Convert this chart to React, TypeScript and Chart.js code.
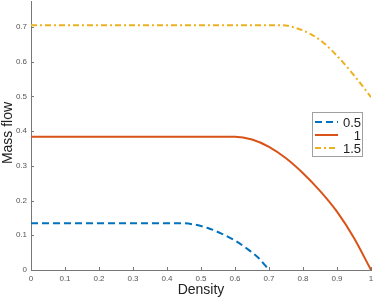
import React, { useEffect, useRef } from "react";
import { Chart, registerables } from "chart.js";

Chart.register(...registerables);

const seriesLabels = ["0.5", "1", "1.5"];

const densityA = [0, 0.44, 0.48, 0.52, 0.56, 0.6, 0.64, 0.67, 0.7];
const flowA = [0.135, 0.135, 0.131, 0.121, 0.105, 0.085, 0.058, 0.034, 0.0];

const densityB = [0, 0.6, 0.65, 0.7, 0.75, 0.8, 0.85, 0.9, 0.95, 1];
const flowB = [0.384, 0.384, 0.376, 0.355, 0.322, 0.279, 0.228, 0.168, 0.092, 0.0];

const densityC = [0, 0.74, 0.78, 0.82, 0.86, 0.9, 0.95, 1];
const flowC = [0.705, 0.705, 0.697, 0.681, 0.655, 0.617, 0.561, 0.498];

const xTicks = [0, 0.1, 0.2, 0.3, 0.4, 0.5, 0.6, 0.7, 0.8, 0.9, 1];
const yTicks = [0, 0.1, 0.2, 0.3, 0.4, 0.5, 0.6, 0.7];

const colors = ["#0072BD", "#D95319", "#EDB120"];
const dashes = [[7, 4], [], [6, 3, 2, 3]];

const toPts = (xs: number[], ys: number[]) => xs.map((x, i) => ({ x, y: ys[i] }));

const decorPlugin = {
  id: "decor",
  afterDraw(chart: any) {
    const ctx = chart.ctx;
    const xs = chart.scales.x;
    const ys = chart.scales.y;
    const area = chart.chartArea;
    ctx.save();
    ctx.strokeStyle = "#777";
    ctx.lineWidth = 1;
    ctx.setLineDash([]);
    xTicks.forEach((t) => {
      const px = Math.round(xs.getPixelForValue(t)) + 0.5;
      ctx.beginPath();
      ctx.moveTo(px, area.bottom);
      ctx.lineTo(px, area.bottom - 3);
      ctx.stroke();
    });
    yTicks.forEach((t) => {
      const py = Math.round(ys.getPixelForValue(t)) + 0.5;
      ctx.beginPath();
      ctx.moveTo(area.left, py);
      ctx.lineTo(area.left + 3, py);
      ctx.stroke();
    });
    ctx.fillStyle = "#222";
    ctx.font = "14px 'Liberation Sans', Arial, sans-serif";
    ctx.textAlign = "center";
    ctx.textBaseline = "alphabetic";
    ctx.fillText("Density", (area.left + area.right) / 2, 294);
    ctx.save();
    ctx.translate(12, 133);
    ctx.rotate(-Math.PI / 2);
    ctx.fillText("Mass flow", 0, 0);
    ctx.restore();
    const bx = 312.5, by = 112.5, bw = 50, bh = 44;
    ctx.fillStyle = "#fff";
    ctx.fillRect(bx, by, bw, bh);
    ctx.strokeStyle = "#a0a0a0";
    ctx.lineWidth = 1;
    ctx.strokeRect(bx, by, bw, bh);
    const rowY = [122, 135, 148];
    ctx.font = "13px 'Liberation Sans', Arial, sans-serif";
    ctx.textAlign = "right";
    ctx.textBaseline = "middle";
    seriesLabels.forEach((lab, i) => {
      ctx.strokeStyle = colors[i];
      ctx.lineWidth = 2;
      ctx.setLineDash(dashes[i]);
      ctx.beginPath();
      ctx.moveTo(315, rowY[i]);
      ctx.lineTo(338, rowY[i]);
      ctx.stroke();
      ctx.setLineDash([]);
      ctx.fillStyle = "#222";
      ctx.fillText(lab, 361, rowY[i] + 1);
    });
    ctx.restore();
  },
};

export default function App() {
  const ref = useRef<HTMLCanvasElement>(null);
  useEffect(() => {
    if (!ref.current) return;
    const chart = new Chart(ref.current, {
      type: "line",
      data: {
        datasets: [
          { label: seriesLabels[0], data: toPts(densityA, flowA) },
          { label: seriesLabels[1], data: toPts(densityB, flowB) },
          { label: seriesLabels[2], data: toPts(densityC, flowC) },
        ].map((d, i) => ({
          ...d,
          borderColor: colors[i],
          backgroundColor: colors[i],
          borderWidth: 2,
          borderDash: dashes[i],
          pointRadius: 0,
          fill: false,
          cubicInterpolationMode: "monotone" as const,
        })),
      },
      options: {
        animation: false,
        responsive: false,
        maintainAspectRatio: false,
        layout: { padding: { top: 1, right: 3, left: 0, bottom: 0 } },
        plugins: { legend: { display: false }, tooltip: { enabled: false } },
        scales: {
          x: {
            type: "linear",
            min: 0,
            max: 1,
            afterFit: (s: any) => {
              s.height = 27;
              s.paddingLeft = 0;
              s.paddingRight = 0;
              s.paddingTop = 0;
              s.paddingBottom = 0;
            },
            afterBuildTicks: (s: any) => { s.ticks = xTicks.map((v) => ({ value: v })); },
            grid: { display: false, drawTicks: false },
            border: { display: true, color: "#777", width: 1 },
            ticks: {
              padding: 4,
              color: "#555",
              font: { size: 8, family: "'Liberation Sans', Arial, sans-serif" },
              maxRotation: 0,
              callback: (v: any) => String(Number(v)),
            },
          },
          y: {
            type: "linear",
            min: 0,
            max: 0.775,
            afterFit: (s: any) => {
              s.width = 31;
              s.paddingLeft = 0;
              s.paddingRight = 0;
              s.paddingTop = 0;
              s.paddingBottom = 0;
            },
            afterBuildTicks: (s: any) => { s.ticks = yTicks.map((v) => ({ value: v })); },
            grid: { display: false, drawTicks: false },
            border: { display: true, color: "#777", width: 1 },
            ticks: {
              padding: 4,
              color: "#555",
              font: { size: 8, family: "'Liberation Sans', Arial, sans-serif" },
              callback: (v: any) => String(Number(v)),
            },
          },
        },
      },
      plugins: [decorPlugin],
    });
    return () => chart.destroy();
  }, []);
  return (
    <div style={{ position: "fixed", left: 0, top: 0, width: 374, height: 297, background: "#fff" }}>
      <canvas ref={ref} width={374} height={297} style={{ width: 374, height: 297 }} />
    </div>
  );
}
